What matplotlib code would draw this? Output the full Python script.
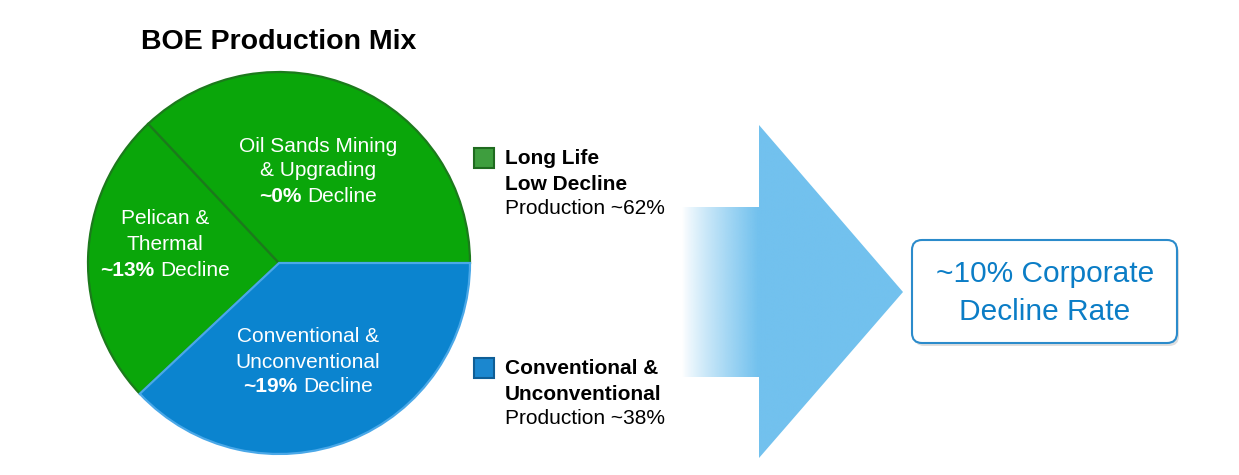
import matplotlib
matplotlib.use("Agg")
import matplotlib.pyplot as plt
import numpy as np
from matplotlib.patches import Polygon, FancyBboxPatch, Rectangle

# ---------------- data ----------------
segments = ["Conventional & Unconventional", "Pelican & Thermal", "Oil Sands Mining & Upgrading"]
shares = [38, 25, 37]            # % of BOE production
declines = [19, 13, 0]           # % decline rate
group_labels = [["Long Life", "Low Decline"], ["Conventional &", "Unconventional"]]
group_shares = [62, 38]
corporate_decline = 10
title = "BOE Production Mix"

FONT = "Liberation Sans"
GREEN = "#0AA60A"
BLUE = "#0B84CF"
ARROW = "#72C1EE"
BOXTXT = "#0B7DC6"

W, H = 1239, 475
fig = plt.figure(figsize=(W / 100, H / 100), dpi=100)
ax = fig.add_axes([0, 0, 1, 1])
renderer = fig.canvas.get_renderer()


def Y(y):
    return H - y


# ---------------- pie ----------------
colors = [BLUE, GREEN, GREEN]
wedges, _ = ax.pie(shares, colors=colors, startangle=0, counterclock=False,
                   center=(279, Y(263)), radius=191, frame=True,
                   wedgeprops=dict(linewidth=1.6))
wedges[0].set_edgecolor("#4AA8E8")
wedges[0].set_zorder(3)
wedges[1].set_edgecolor("#1C7A1C")
wedges[2].set_edgecolor("#1C7A1C")
for w in wedges[1:]:
    w.set_zorder(2)

ax.set_xlim(0, W)
ax.set_ylim(0, H)
ax.set_axis_off()


def gap_width(size, weight):
    t1 = ax.text(0, 0, "x x", fontsize=size, fontweight=weight, family=FONT)
    t2 = ax.text(0, 0, "xx", fontsize=size, fontweight=weight, family=FONT)
    g = t1.get_window_extent(renderer).width - t2.get_window_extent(renderer).width
    t1.remove(); t2.remove()
    return g


def seg_line(x, y, segs, size, color, ha="center", zorder=5):
    objs, widths = [], []
    for s, wgt in segs:
        t = ax.text(0, Y(y), s, fontsize=size, fontweight=wgt, color=color,
                    va="center", ha="left", family=FONT, zorder=zorder)
        widths.append(t.get_window_extent(renderer).width)
        objs.append(t)
    gap = gap_width(size, "normal")
    total = sum(widths) + gap * (len(segs) - 1)
    x0 = x - total / 2 if ha == "center" else x
    for t, wd in zip(objs, widths):
        t.set_x(x0)
        x0 += wd + gap


PS = 15
# Oil sands label
seg_line(318, 146, [("Oil Sands Mining", "normal")], PS, "white")
seg_line(318, 171, [("& Upgrading", "normal")], PS, "white")
seg_line(318, 196, [(f"~{declines[2]}%", "bold"), ("Decline", "normal")], PS, "white")
# Pelican label
seg_line(165, 219, [("Pelican &", "normal")], PS, "white")
seg_line(165, 245, [("Thermal", "normal")], PS, "white")
seg_line(165, 271, [(f"~{declines[1]}%", "bold"), ("Decline", "normal")], PS, "white")
# Conventional label
seg_line(308, 337, [("Conventional &", "normal")], PS, "white")
seg_line(308, 362, [("Unconventional", "normal")], PS, "white")
seg_line(308, 387, [(f"~{declines[0]}%", "bold"), ("Decline", "normal")], PS, "white")

# title
ax.text(279, Y(42), title, fontsize=20.5, fontweight="bold", family=FONT,
        ha="center", va="center", color="black")

# ---------------- legend ----------------
leg_colors = [("#3E9E3E", "#1F6B1F"), ("#1B87CF", "#0F5E96")]
leg_tops = [148, 358]
for (fc, ec), top, lbl, sh in zip(leg_colors, leg_tops, group_labels, group_shares):
    ax.add_patch(Rectangle((474, Y(top + 20)), 20, 20, facecolor=fc, edgecolor=ec,
                           linewidth=1.5, zorder=4))
    ax.text(505, Y(top + 11), lbl[0], fontsize=PS, fontweight="bold", family=FONT,
            ha="left", va="center")
    ax.text(505, Y(top + 36), lbl[1], fontsize=PS, fontweight="bold", family=FONT,
            ha="left", va="center")
    ax.text(505, Y(top + 61), f"Production ~{sh}%", fontsize=PS, family=FONT,
            ha="left", va="center")

# ---------------- arrow ----------------
arrow_pts = [(680, 207), (759, 207), (759, 125), (903, 292), (759, 458),
             (759, 377), (680, 377)]
poly = Polygon([(x, Y(y)) for x, y in arrow_pts], closed=True, facecolor="none",
               edgecolor="none")
ax.add_patch(poly)
nx = 300
xs = np.linspace(678, 905, nx)
alpha = np.clip((xs - 682) / (758 - 682), 0, 1) ** 0.85
rgb = np.array(matplotlib.colors.to_rgb(ARROW))
img = np.zeros((2, nx, 4))
img[..., :3] = rgb
img[..., 3] = alpha
im = ax.imshow(img, extent=(678, 905, Y(460), Y(123)), aspect="auto",
               interpolation="bilinear", zorder=1)
im.set_clip_path(poly)
ax.set_xlim(0, W)
ax.set_ylim(0, H)

# ---------------- result box ----------------
bx0, by0, bx1, by1 = 912, 240, 1177, 343
shadow = FancyBboxPatch((bx0 + 2, Y(by1 + 3)), bx1 - bx0, by1 - by0,
                        boxstyle="round,pad=0,rounding_size=10",
                        facecolor="#C8C8C8", edgecolor="none", alpha=0.6, zorder=3)
ax.add_patch(shadow)
box = FancyBboxPatch((bx0, Y(by1)), bx1 - bx0, by1 - by0,
                     boxstyle="round,pad=0,rounding_size=10",
                     facecolor="white", edgecolor="#2B8BCB", linewidth=1.5, zorder=4)
ax.add_patch(box)
ax.text(1045, Y(274), f"~{corporate_decline}% Corporate", fontsize=21.5, family=FONT,
        color=BOXTXT, ha="center", va="center", zorder=5)
ax.text(1045, Y(312), "Decline Rate", fontsize=21.5, family=FONT,
        color=BOXTXT, ha="center", va="center", zorder=5)

fig.savefig("out.png", dpi=100)
